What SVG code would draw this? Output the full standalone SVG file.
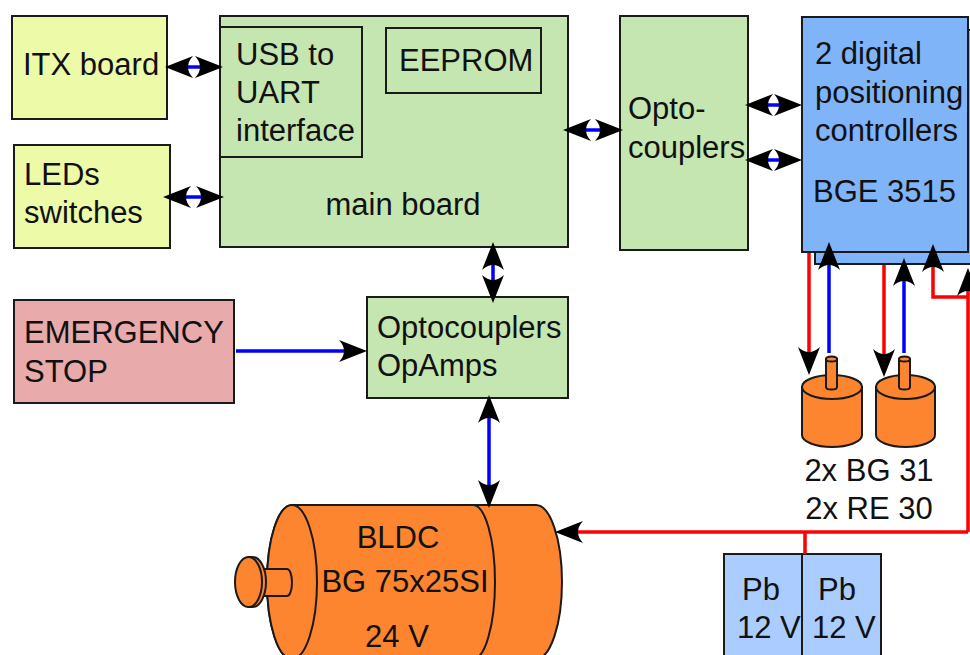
<svg xmlns="http://www.w3.org/2000/svg" width="970" height="655" viewBox="0 0 970 655">
  <style>
    text { font-family: "Liberation Sans", Arial, sans-serif; font-size: 31px; fill: #111; }
    .box { stroke: #1a1a1a; stroke-width: 2; }
    .yellow { fill: #edfaa8; }
    .green { fill: #c5e6b0; }
    .blue { fill: #80b4f8; }
    .red { fill: #e8aaaa; }
    .batt { fill: #aaccff; }
    .orange { fill: #fd8530; stroke: #1a1a1a; stroke-width: 2; }
    .sig { fill: none; stroke: #0000ff; stroke-width: 3.5; }
    .pwr { fill: none; stroke: #ff0000; stroke-width: 3.5; }
    .both { marker-start: url(#ah); marker-end: url(#ah); }
    .one { marker-end: url(#ah); }
  </style>
  <defs>
    <!-- concave-backed arrowhead, tip sits 5px beyond the line end -->
    <marker id="ah" markerUnits="userSpaceOnUse" markerWidth="32" markerHeight="26" viewBox="-30 -13 32 26" refX="-5" refY="0" orient="auto-start-reverse" overflow="visible">
      <path d="M0,0 L-28,-11 Q-18,0 -28,11 Z" fill="#000"/>
    </marker>
  </defs>

  <g id="itx-board">
    <rect class="box yellow" x="12" y="16" width="155" height="103"/>
    <text x="23" y="75">ITX board</text>
  </g>

  <g id="leds-switches">
    <rect class="box yellow" x="14" y="145" width="156" height="103"/>
    <text x="24" y="185">LEDs</text>
    <text x="24" y="223">switches</text>
  </g>

  <g id="main-board">
    <rect class="box green" x="220" y="16" width="348" height="231"/>
    <rect class="box green" x="220" y="27" width="142" height="130"/>
    <text x="236" y="65">USB to</text>
    <text x="236" y="103">UART</text>
    <text x="236" y="141">interface</text>
    <rect class="box green" x="386" y="28" width="155" height="65"/>
    <text x="399" y="71">EEPROM</text>
    <text x="403" y="215" text-anchor="middle">main board</text>
  </g>

  <g id="optocouplers">
    <rect class="box green" x="620" y="16" width="128" height="234"/>
    <text x="628" y="119">Opto-</text>
    <text x="628" y="158">couplers</text>
  </g>

  <g id="controllers">
    <rect class="box blue" x="815" y="30" width="160" height="234"/>
    <rect class="box blue" x="802" y="17" width="166" height="235"/>
    <text x="815" y="64">2 digital</text>
    <text x="815" y="103">positioning</text>
    <text x="815" y="141">controllers</text>
    <text x="813" y="202">BGE 3515</text>
  </g>

  <g id="emergency-stop">
    <rect class="box red" x="14" y="300" width="220" height="103"/>
    <text x="24" y="343">EMERGENCY</text>
    <text x="24" y="382">STOP</text>
  </g>

  <g id="optocouplers-opamps">
    <rect class="box green" x="367" y="297" width="201" height="101"/>
    <text x="377" y="338">Optocouplers</text>
    <text x="377" y="376">OpAmps</text>
  </g>

  <g id="bldc-motor">
    <path class="orange" d="M292,505 L536,505 A26,77 0 0 1 536,659 L292,659 A25,77 0 0 1 292,505 Z"/>
    <path fill="none" stroke="#1a1a1a" stroke-width="2" d="M473,505 A22,77 0 0 1 473,659"/>
    <ellipse class="orange" cx="292" cy="582" rx="25" ry="77"/>
    <path class="orange" d="M262,569 L287,569 A5,13.5 0 0 1 287,596 L262,596 Z"/>
    <path class="orange" d="M248.5,557 L252.5,557 A13.5,25 0 0 1 252.5,607 L248.5,607 Z"/>
    <ellipse class="orange" cx="248.5" cy="582" rx="13.5" ry="25"/>
    <text x="398" y="548" text-anchor="middle">BLDC</text>
    <text x="405" y="592" text-anchor="middle">BG 75x25SI</text>
    <text x="397" y="647" text-anchor="middle">24 V</text>
  </g>

  <g id="small-motors">
    <path class="orange" d="M802,387 L802,435 A30,12 0 0 0 862,435 L862,387 Z"/>
    <ellipse class="orange" cx="832" cy="387" rx="30" ry="12"/>
    <path class="orange" d="M826,359 L826,387 A5.5,2.5 0 0 0 837,387 L837,359 Z"/>
    <ellipse class="orange" cx="831.5" cy="359" rx="5.5" ry="2.5"/>
    <path class="orange" d="M876,387 L876,435 A29.5,12 0 0 0 935,435 L935,387 Z"/>
    <ellipse class="orange" cx="905.5" cy="387" rx="29.5" ry="12"/>
    <path class="orange" d="M899,359 L899,387 A5.5,2.5 0 0 0 910,387 L910,359 Z"/>
    <ellipse class="orange" cx="904.5" cy="359" rx="5.5" ry="2.5"/>
    <text x="869" y="481" text-anchor="middle">2x BG 31</text>
    <text x="869" y="519" text-anchor="middle">2x RE 30</text>
  </g>

  <g id="batteries">
    <rect class="box batt" x="724" y="554" width="78" height="110"/>
    <rect class="box batt" x="802" y="554" width="79" height="110"/>
    <text x="742" y="600">Pb</text>
    <text x="737" y="638">12 V</text>
    <text x="818" y="600">Pb</text>
    <text x="812" y="638">12 V</text>
  </g>

  <g id="connectors">
    <line class="sig both" x1="170" y1="67" x2="218" y2="67"/>
    <line class="sig both" x1="168" y1="197" x2="219" y2="197"/>
    <line class="sig both" x1="568" y1="130" x2="618" y2="130"/>
    <line class="sig both" x1="750" y1="105" x2="797" y2="105"/>
    <line class="sig both" x1="750" y1="160" x2="797" y2="160"/>
    <line class="sig both" x1="493" y1="247" x2="493" y2="298"/>
    <line class="sig one" x1="236" y1="351" x2="362" y2="351"/>
    <line class="sig both" x1="489" y1="400" x2="489" y2="503"/>
    <line class="pwr one" x1="809" y1="253" x2="809" y2="370"/>
    <line class="sig one" x1="829" y1="353" x2="829" y2="247"/>
    <line class="pwr one" x1="884" y1="265" x2="884" y2="372"/>
    <line class="sig one" x1="904" y1="353" x2="904" y2="263"/>
    <path class="pwr one" d="M968,297 L933,297 L933,249"/>
    <path class="pwr one" d="M968,532 L968,273"/>
    <path class="pwr one" d="M968,532 L560,532"/>
    <path class="pwr" d="M805,554 L805,532"/>
  </g>
</svg>
